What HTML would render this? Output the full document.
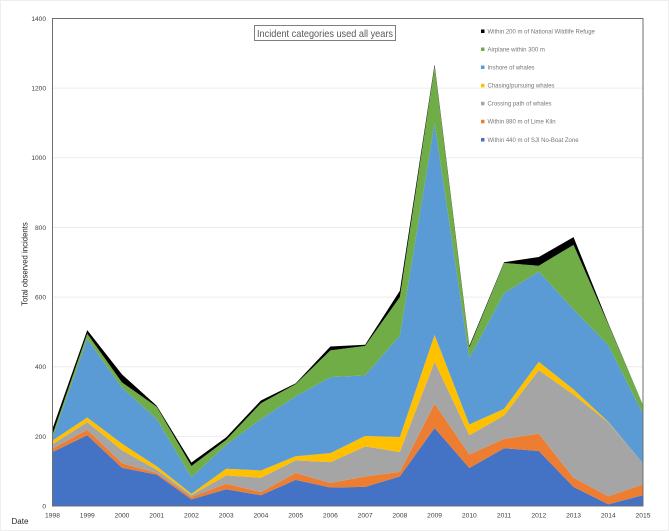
<!DOCTYPE html>
<html lang="en">
<head>
<meta charset="utf-8">
<title>Incident categories used all years</title>
<style>
html,body{margin:0;padding:0;background:#fff;}
svg{display:block;font-family:"Liberation Sans",sans-serif;}
</style>
</head>
<body>
<svg id="chart" xmlns="http://www.w3.org/2000/svg" width="669" height="531" viewBox="0 0 669 531">
  <rect x="0.5" y="0.5" width="668" height="530" fill="#fff" stroke="#eeeeee"/>
  <g id="grid"></g>
  <g id="areas"></g>
  <rect x="52.5" y="18.5" width="590.5" height="487.5" fill="none" stroke="#6f6f6f" stroke-width="1"/>
  <g id="yticks" font-size="6.6" fill="#404040" text-anchor="end"></g>
  <g id="xticks" font-size="6.7" fill="#404040" text-anchor="middle"></g>
  <text transform="translate(27.5,264) rotate(-90)" font-size="7.8" fill="#262626" text-anchor="middle">Total observed incidents</text>
  <text x="11.5" y="524" font-size="8" fill="#262626">Date</text>
  <g>
    <rect x="254.5" y="25.5" width="141" height="15" fill="#fff" stroke="#7f7f7f"/>
    <text x="257" y="37" font-size="10.5" fill="#595959" textLength="136" lengthAdjust="spacingAndGlyphs">Incident categories used all years</text>
  </g>
  <g font-size="6" fill="#777777">
    <g><rect x="481" y="29.5" width="3.5" height="3.5" fill="#000000"/><text x="487.5" y="33.4">Within 200 m of National Wildlife Refuge</text></g>
    <g><rect x="481" y="47.5" width="3.5" height="3.5" fill="#70AD47"/><text x="487.5" y="51.4">Airplane within 300 m</text></g>
    <g><rect x="481" y="65.5" width="3.5" height="3.5" fill="#5B9BD5"/><text x="487.5" y="69.4">Inshore of whales</text></g>
    <g><rect x="481" y="83.8" width="3.5" height="3.5" fill="#FFC000"/><text x="487.5" y="87.7">Chasing/pursuing whales</text></g>
    <g><rect x="481" y="101.8" width="3.5" height="3.5" fill="#A5A5A5"/><text x="487.5" y="105.7">Crossing path of whales</text></g>
    <g><rect x="481" y="119.8" width="3.5" height="3.5" fill="#ED7D31"/><text x="487.5" y="123.7">Within 880 m of Lime Kiln</text></g>
    <g><rect x="481" y="138" width="3.5" height="3.5" fill="#4472C4"/><text x="487.5" y="141.9">Within 440 m of SJI No-Boat Zone</text></g>
  </g>
</svg>
<script>
const years = ['1998','1999','2000','2001','2002','2003','2004','2005','2006','2007','2008','2009','2010','2011','2012','2013','2014','2015'];
const yTickLabels = [0,200,400,600,800,1000,1200,1400];
const noBoatZone = [155,203,110,90,19,48,31,75,53,55,85,224,109,166,158,55,5,31];
const limeKiln = [10,16,13,5,7,16,9,20,13,30,13,70,39,27,50,26,23,31];
const crossingPath = [12,22,37,9,5,24,41,36,60,86,57,120,55,67,182,239,212,60];
const chasing = [11,13,19,10,4,19,21,12,26,30,43,77,31,19,24,15,2,0];
const inshore = [7,226,161,136,48,68,148,172,218,174,292,609,191,332,259,230,220,143];
const airplane = [10,15,15,35,32,15,45,35,77,85,110,162,30,87,17,185,60,25];
const wildlifeRefuge = [17,10,23,3,10,7,8,2,11,3,18,6,5,2,25,22,3,0];

const NS = 'http://www.w3.org/2000/svg';
const plot = {left: 52.5, right: 643, top: 18.5, bottom: 506};
const yMax = 1400;
function xScale(i) {
  return plot.left + (plot.right - plot.left) * i / (years.length - 1);
}
function yScale(v) {
  return plot.bottom - (plot.bottom - plot.top) * v / yMax;
}

const gridGroup = document.getElementById('grid');
const yGroup = document.getElementById('yticks');
yTickLabels.forEach(function (t) {
  if (t > 0 && t < yMax) {
    const line = document.createElementNS(NS, 'line');
    
    
    line.setAttribute('x1', plot.left);
    line.setAttribute('x2', plot.right);
    line.setAttribute('y1', yScale(t));
    line.setAttribute('y2', yScale(t));
    line.setAttribute('stroke', '#ececec');
    gridGroup.appendChild(line);
  }
  const label = document.createElementNS(NS, 'text');
  
  
  label.setAttribute('x', 46);
  label.setAttribute('y', yScale(t) + 2.4);
  label.textContent = String(t);
  yGroup.appendChild(label);
});

const xGroup = document.getElementById('xticks');
years.forEach(function (yr, i) {
  const label = document.createElementNS(NS, 'text');
  
  
  label.setAttribute('x', xScale(i));
  label.setAttribute('y', 517.5);
  label.textContent = yr;
  xGroup.appendChild(label);
});

const stackOrder = [noBoatZone, limeKiln, crossingPath, chasing, inshore, airplane, wildlifeRefuge];
const stackKeys = ['sji-no-boat-zone', 'lime-kiln', 'crossing-path', 'chasing', 'inshore', 'airplane', 'wildlife-refuge'];
const stackColors = ['#4472C4', '#ED7D31', '#A5A5A5', '#FFC000', '#5B9BD5', '#70AD47', '#000000'];
const areaGroup = document.getElementById('areas');
let baseline = years.map(function () { return 0; });
stackOrder.forEach(function (series, s) {
  const top = series.map(function (v, i) { return baseline[i] + v; });
  const upper = top.map(function (v, i) { return xScale(i).toFixed(2) + ',' + yScale(v).toFixed(2); });
  const lower = baseline.map(function (v, i) { return xScale(i).toFixed(2) + ',' + yScale(v).toFixed(2); }).reverse();
  const poly = document.createElementNS(NS, 'polygon');
  
  
  poly.setAttribute('points', upper.concat(lower).join(' '));
  poly.setAttribute('fill', stackColors[s]);
  areaGroup.appendChild(poly);
  baseline = top;
});
</script>
</body>
</html>
